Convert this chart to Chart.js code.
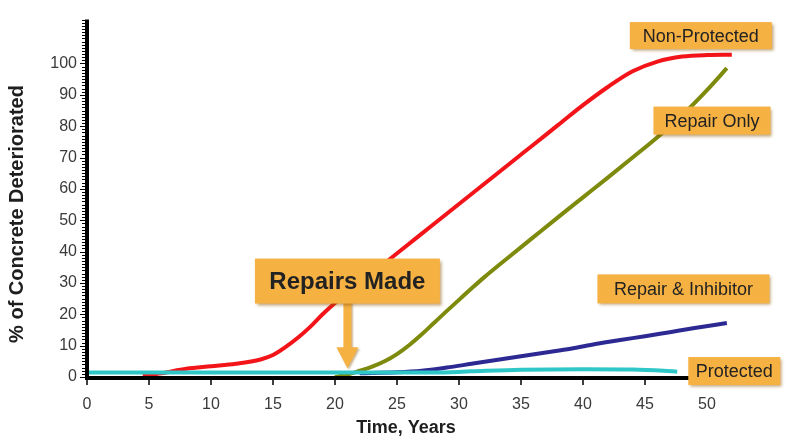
<!DOCTYPE html>
<html>
<head>
<meta charset="utf-8">
<script src="https://cdn.jsdelivr.net/npm/chart.js@4/dist/chart.umd.min.js"></script>
<style>
  html, body { margin: 0; padding: 0; background: #ffffff; }
  canvas { display: block; }
</style>
</head>
<body>
<canvas id="chart" width="789" height="437"></canvas>
<script>
// Years of service (x) and % of concrete deteriorated (y) for each scenario
const protectedYears = [0, 10, 20, 28, 31, 35, 40, 44, 46.5, 47.6];
const protectedPct   = [1.4, 1.4, 1.4, 1.4, 1.8, 2.3, 2.5, 2.4, 2.0, 1.7];

const nonProtectedYears = [4.5, 6, 8, 10, 12, 14, 15, 16, 17, 18, 19, 20, 22, 24, 26, 28, 30, 32, 34, 36, 38, 40, 42, 44, 46, 48, 50, 52];
const nonProtectedPct   = [0.4, 1.2, 2.6, 3.4, 4.2, 5.6, 7, 9.5, 12.5, 16, 20, 23.6, 30, 36.3, 42.6, 48.9, 55.2, 61.5, 67.8, 74.1, 80.4, 86.7, 92.5, 97.5, 100.6, 102.2, 102.7, 102.8];

const repairOnlyYears = [20, 21, 22, 23, 24, 25, 26, 27, 28, 29, 30, 31, 32, 34, 36, 38, 40, 42, 44, 46, 48, 50, 51.6];
const repairOnlyPct   = [0, 0.8, 2, 3.3, 5, 7.3, 10.2, 13.6, 17.3, 21, 24.6, 28.2, 31.7, 38.2, 44.6, 51, 57.3, 63.6, 70, 76.5, 83.5, 91.5, 98.5];

const inhibitorYears = [22, 25, 27, 29, 31, 33, 35, 37, 39, 41, 43, 45, 47, 49, 51.6];
const inhibitorPct   = [1.2, 1.5, 2, 3, 4.2, 5.4, 6.6, 7.8, 9, 10.5, 11.8, 13, 14.3, 15.6, 17.2];

const xTickValues = [0, 5, 10, 15, 20, 25, 30, 35, 40, 45, 50];
const yTickValues = [0, 10, 20, 30, 40, 50, 60, 70, 80, 90, 100];

const repairYear = 21;

// Callout boxes placed in data coordinates (w/h in pixels)
const callouts = [
  { text: 'Non-Protected',      x: 49.5, y: 108.9, w: 142, h: 27, font: '18px "Liberation Sans", Arial, sans-serif' },
  { text: 'Repair Only',        x: 50.4, y: 81.8,  w: 117, h: 28, font: '18px "Liberation Sans", Arial, sans-serif' },
  { text: 'Repair & Inhibitor', x: 48.1, y: 28.1,  w: 172, h: 29, font: '18px "Liberation Sans", Arial, sans-serif' },
  { text: 'Protected',          x: 52.2, y: 1.9,   w: 92,  h: 28, font: '18px "Liberation Sans", Arial, sans-serif' },
  { text: 'Repairs Made',       x: repairYear, y: 30.6, w: 185, h: 45, font: 'bold 24px "Liberation Sans", Arial, sans-serif', arrowTo: 2.8 }
];

const toPoints = (xs, ys) => xs.map((x, i) => ({ x: x, y: ys[i] }));

const ORANGE = '#F6B143';
const TEXT = '#222222';

function drawBox(ctx, cx, cy, w, h) {
  ctx.save();
  ctx.shadowColor = 'rgba(140, 90, 10, 0.55)';
  ctx.shadowOffsetX = 2;
  ctx.shadowOffsetY = 2;
  ctx.shadowBlur = 3;
  ctx.fillStyle = ORANGE;
  ctx.fillRect(cx - w / 2, cy - h / 2, w, h);
  ctx.restore();
}

const decorPlugin = {
  id: 'decor',
  afterDraw(chart) {
    const ctx = chart.ctx;
    const xs = chart.scales.x, ys = chart.scales.y;
    const area = chart.chartArea;
    const y0 = ys.getPixelForValue(0);

    ctx.save();
    // axis lines
    ctx.strokeStyle = '#000';
    ctx.lineCap = 'butt';
    ctx.lineWidth = 4;
    ctx.beginPath();
    ctx.moveTo(area.left, area.top);
    ctx.lineTo(area.left, y0 + 3);
    ctx.stroke();
    ctx.beginPath();
    ctx.moveTo(area.left - 2, y0 + 1);
    ctx.lineTo(xs.getPixelForValue(52), y0 + 1);
    ctx.stroke();

    // y-axis comb of minor ticks
    ctx.lineWidth = 1;
    for (let v = 0; v <= ys.max; v += 1) {
      const p = Math.round(ys.getPixelForValue(v)) + 0.5;
      const len = (v % 10 === 0 && v <= 100) ? 5 : 3;
      ctx.beginPath();
      ctx.moveTo(area.left - 2 - len, p);
      ctx.lineTo(area.left - 1, p);
      ctx.stroke();
    }
    // x-axis major ticks
    ctx.lineWidth = 1.5;
    xTickValues.forEach(v => {
      const p = xs.getPixelForValue(v);
      ctx.beginPath();
      ctx.moveTo(p, y0 + 2);
      ctx.lineTo(p, y0 + 8);
      ctx.stroke();
    });

    // axis titles
    ctx.fillStyle = '#1e1e1e';
    ctx.textAlign = 'center';
    ctx.textBaseline = 'middle';
    ctx.font = 'bold 18px "Liberation Sans", Arial, sans-serif';
    ctx.fillText('Time, Years', 406, 428);
    ctx.save();
    ctx.translate(17, 214);
    ctx.rotate(-Math.PI / 2);
    ctx.font = 'bold 20px "Liberation Sans", Arial, sans-serif';
    ctx.fillText('% of Concrete Deteriorated', 0, 0);
    ctx.restore();

    // callouts
    callouts.forEach(c => {
      const cx = xs.getPixelForValue(c.x);
      const cy = ys.getPixelForValue(c.y);
      if (c.arrowTo !== undefined) {
        const tip = ys.getPixelForValue(c.arrowTo);
        const top = cy + c.h / 2;
        const headH = 21, headW = 22, shaftW = 8;
        ctx.save();
        ctx.shadowColor = 'rgba(140, 90, 10, 0.45)';
        ctx.shadowOffsetX = 1.5;
        ctx.shadowOffsetY = 1.5;
        ctx.shadowBlur = 2;
        ctx.fillStyle = ORANGE;
        ctx.beginPath();
        ctx.moveTo(cx - shaftW / 2, top - 2);
        ctx.lineTo(cx + shaftW / 2, top - 2);
        ctx.lineTo(cx + shaftW / 2, tip - headH);
        ctx.lineTo(cx + headW / 2, tip - headH);
        ctx.lineTo(cx, tip);
        ctx.lineTo(cx - headW / 2, tip - headH);
        ctx.lineTo(cx - shaftW / 2, tip - headH);
        ctx.closePath();
        ctx.fill();
        ctx.restore();
      }
      drawBox(ctx, cx, cy, c.w, c.h);
      ctx.fillStyle = TEXT;
      ctx.font = c.font;
      ctx.textAlign = 'center';
      ctx.textBaseline = 'middle';
      ctx.fillText(c.text, cx, cy + 1);
    });
    ctx.restore();
  }
};

const lineStyle = { showLine: true, pointRadius: 0, borderWidth: 4, fill: false, cubicInterpolationMode: 'monotone' };

new Chart(document.getElementById('chart'), {
  type: 'scatter',
  data: {
    datasets: [
      Object.assign({ label: 'Protected', data: toPoints(protectedYears, protectedPct), borderColor: '#2FC6C8' }, lineStyle),
      Object.assign({ label: 'Non-Protected', data: toPoints(nonProtectedYears, nonProtectedPct), borderColor: '#F21418' }, lineStyle),
      Object.assign({ label: 'Repair Only', data: toPoints(repairOnlyYears, repairOnlyPct), borderColor: '#7D8A0C' }, lineStyle),
      Object.assign({ label: 'Repair & Inhibitor', data: toPoints(inhibitorYears, inhibitorPct), borderColor: '#2C2A92' }, lineStyle)
    ]
  },
  options: {
    responsive: false,
    animation: false,
    events: [],
    layout: { padding: { top: 13, right: 20, left: 0, bottom: 0 } },
    plugins: { legend: { display: false }, tooltip: { enabled: false } },
    scales: {
      x: {
        type: 'linear', min: 0, max: 55,
        afterBuildTicks: s => { s.ticks = xTickValues.map(v => ({ value: v })); },
        afterFit: s => { s.height = 60; },
        grid: { display: false, drawTicks: false },
        border: { display: false },
        ticks: { autoSkip: false, maxRotation: 0, padding: 18, color: '#3a3a3a',
                 font: { family: '"Liberation Sans", Arial, sans-serif', size: 16 } }
      },
      y: {
        type: 'linear', min: 0, max: 114,
        afterBuildTicks: s => { s.ticks = yTickValues.map(v => ({ value: v })); },
        afterFit: s => { s.width = 87; },
        grid: { display: false, drawTicks: false },
        border: { display: false },
        ticks: { autoSkip: false, padding: 10, color: '#3a3a3a',
                 font: { family: '"Liberation Sans", Arial, sans-serif', size: 16 } }
      }
    }
  },
  plugins: [decorPlugin]
});
</script>
</body>
</html>
